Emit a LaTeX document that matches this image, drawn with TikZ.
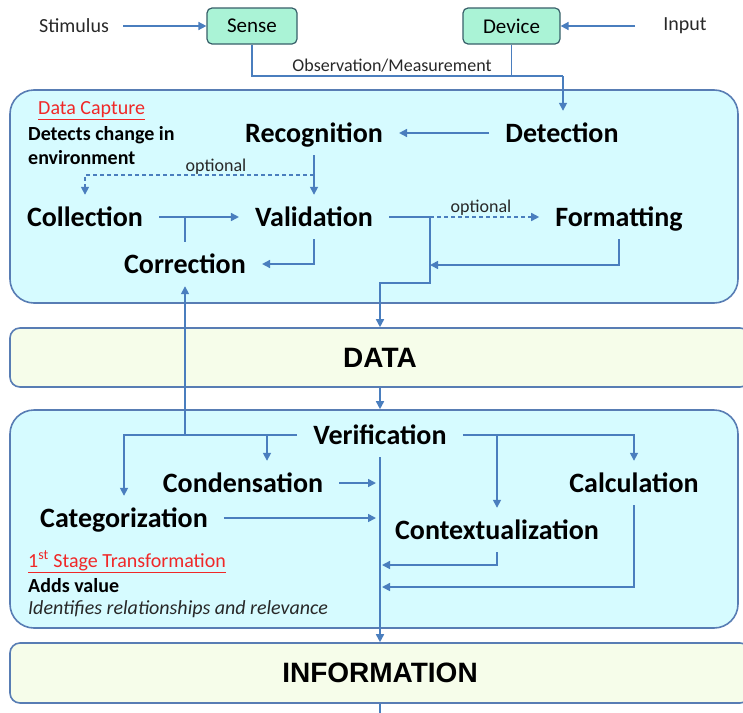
\documentclass[tikz,border=0pt]{standalone}
\usepackage{fontspec}
\setmainfont{Carlito}
\newfontfamily\tierfont{Liberation Sans}
\usepackage{tikz}
\usetikzlibrary{arrows.meta}
\usetikzlibrary{calc}
\definecolor{flowblue}{RGB}{74,126,190}
\definecolor{edgeblue}{RGB}{88,125,180}
\definecolor{stagecyan}{RGB}{214,251,255}
\definecolor{tiercream}{RGB}{246,253,234}
\definecolor{sensemint}{RGB}{170,243,214}
\definecolor{senseedge}{RGB}{55,95,105}
\definecolor{capred}{RGB}{240,40,40}
\definecolor{notegray}{RGB}{40,40,40}
\begin{document}
\begin{tikzpicture}
[   x=1pt, y=-1pt,
    wire/.style={draw=flowblue, line width=1.6pt},
    flow/.style={wire, -{Triangle[length=8pt,width=8pt]}},
    optflow/.style={flow, dash pattern=on 4pt off 3pt},
    stepnode/.style={font=\fontsize{28}{30}\selectfont\bfseries, inner xsep=16pt, inner ysep=10pt, text height=21pt, text depth=3pt},
    note/.style={font=\fontsize{20}{24}\selectfont, text=notegray, inner sep=2pt},
    smallnote/.style={note, font=\fontsize{18}{20}\selectfont},
    stagebox/.style={draw=edgeblue, line width=1.6pt, fill=stagecyan, rounded corners=24pt, minimum width=728pt, inner sep=0pt},
    tierbox/.style={draw=edgeblue, line width=1.6pt, fill=tiercream, rounded corners=10pt, minimum width=740pt, font=\tierfont\fontsize{28}{30}\selectfont\bfseries},
    srcbox/.style={draw=senseedge, line width=1.2pt, fill=sensemint, rounded corners=5pt, minimum height=36pt, font=\fontsize{21}{24}\selectfont}
]
\useasboundingbox (0,0) rectangle (743,712);

\node[stagebox, minimum height=213pt] (capture) at (374,196.5) {};
\node[tierbox, minimum height=59pt] (data) at (380,357.5) {DATA};
\node[stagebox, minimum height=218pt] (transform) at (374,519) {};
\node[tierbox, minimum height=60pt] (info) at (380,673) {INFORMATION};

\node[note] (stim) at (74,26) {Stimulus};
\node[srcbox, minimum width=90pt] (sense) at (252,26) {Sense};
\node[srcbox, minimum width=97pt] (device) at (511.5,26) {Device};
\node[note] (input) at (685,26) {Input};
\node[smallnote] (obs) at (392,66) {Observation/Measurement};

\node[note, text=capred, anchor=west] (capttl) at (36,111) {\underline{Data Capture}};
\node[note, anchor=west, align=left, font=\fontsize{20}{24}\selectfont\bfseries, text=black] (captxt) at (26,146) {Detects change in\\environment};

\node[stepnode] (recog) at (314,133) {Recognition};
\node[stepnode] (detect) at (562,133) {Detection};
\node[stepnode] (coll) at (85,217) {Collection};
\node[stepnode] (valid) at (314,217) {Validation};
\node[stepnode] (format) at (619,217) {Formatting};
\node[stepnode] (correct) at (185,264) {Correction};
\node[smallnote] (opt1) at (216,167) {optional};
\node[smallnote] (opt2) at (481,208) {optional};

\node[stepnode] (verif) at (380,435) {Verification};
\node[stepnode] (conden) at (243,483) {Condensation};
\node[stepnode] (calcul) at (634,483) {Calculation};
\node[stepnode] (categ) at (124,518) {Categorization};
\node[stepnode] (context) at (497,530) {Contextualization};

\node[note, text=capred, anchor=west] (stagettl) at (26,562) {\underline{1\textsuperscript{st} Stage Transformation}};
\node[note, anchor=west, font=\fontsize{20}{24}\selectfont\bfseries, text=black] (stageval) at (26,586) {Adds value};
\node[note, anchor=west, font=\fontsize{20}{24}\selectfont\itshape] (stagerel) at (26,609) {Identifies relationships and relevance};

\coordinate (obsjoin) at (563,76);
\draw[wire] (sense.south) |- (obsjoin);
\draw[wire] (device.south) -- (device.south |- obsjoin);
\draw[flow] (obsjoin) -- (obsjoin |- detect.north);
\draw[flow, shorten <=12pt] (stim) -- (sense);
\draw[flow, shorten <=26pt] (input) -- (device);

\draw[flow] (detect) -- (recog);
\draw[flow] (recog) -- (valid);
\draw[optflow] ($(recog.south)!0.5!(valid.north)$) -| (coll.north);
\draw[flow] (coll) -- (valid);
\draw[wire] (correct.north) -- (correct.north |- coll.east);
\draw[flow] (valid.south) |- (correct.east);
\coordinate (capsplit) at (430,217);
\coordinate (capout) at (430,283);
\coordinate (fmtin) at (430,265);
\draw[wire] (valid.east) -- (capsplit);
\draw[optflow] (capsplit) -- (format.west);
\draw[flow] (capsplit) -- (capout) -| (data.north);
\draw[flow] (format.south) |- (fmtin);

\draw[flow] (data.south) -- (data.south |- transform.north);
\draw[flow] (verif.west) -| (categ.north);
\coordinate (condfork) at (267,435);
\draw[flow] (condfork) -- (condfork |- conden.north);
\draw[flow] (correct.south |- verif.west) -- (correct.south);
\draw[flow] (verif.east) -| (calcul.north);
\draw[flow] (verif.east -| context.north) -- (context.north);
\draw[flow] (verif.south) -- (verif.south |- info.north);
\draw[flow, shorten >=4pt] (conden.east) -- (conden.east -| verif.south);
\draw[flow, shorten >=4pt] (categ.east) -- (categ.east -| verif.south);
\coordinate (ctxin) at (382,565);
\coordinate (calcin) at (382,587);
\draw[flow] (context.south) |- (ctxin);
\draw[flow] (calcul.south) |- (calcin);
\coordinate (infoout) at (380,716);
\draw[wire] (info.south) -- (infoout);
\end{tikzpicture}
\end{document}
